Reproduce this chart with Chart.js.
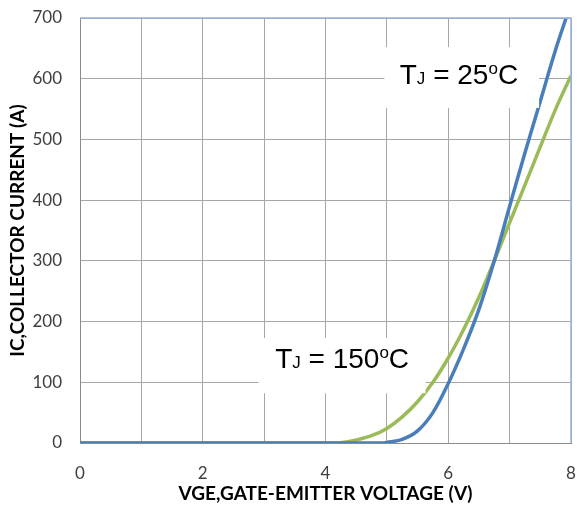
<!DOCTYPE html>
<html>
<head>
<meta charset="utf-8">
<script src="https://cdn.jsdelivr.net/npm/chart.js@4/dist/chart.umd.min.js"></script>
<style>
  html, body { margin: 0; padding: 0; background: #fff; }
  #wrap { width: 577px; height: 511px; position: relative; }
</style>
</head>
<body>
<div id="wrap"><canvas id="c"></canvas></div>
<script>
// Transfer characteristic: collector current vs gate-emitter voltage
const vge25 = [0, 1, 2, 3, 4, 4.5, 4.9, 5.0, 5.25, 5.5, 5.75, 6.0, 6.25, 6.5, 6.75, 7.0, 7.25, 7.5, 7.75, 7.92];
const ic25  = [0, 0, 0, 0, 0, 0,   0,   1,   6,    20,  50,   98,  155,  220, 300,  390, 478,  563, 648,  700];

const vge150 = [0, 1, 2, 3, 4, 4.25, 4.5, 4.75, 5.0, 5.25, 5.5, 5.75, 6.0, 6.25, 6.5, 6.75, 7.0, 7.25, 7.5, 7.75, 8.0];
const ic150  = [0, 0, 0, 0, 0, 0.5,  5,   12,   24,  43,   68,  100,  140, 187,  240, 300,  363, 425,  488, 550,  605];

const xTicks = [0, 2, 4, 6, 8];
const yTicks = [0, 100, 200, 300, 400, 500, 600, 700];

// Annotation boxes (data coordinates) and their text parts
const labels = [
  { box: [4.96, 652, 7.48, 552], at: [5.21, 591], temp: '25' },
  { box: [2.91, 173, 5.63, 82],  at: [3.18, 123], temp: '150' }
];

const toPts = (xs, ys) => xs.map((x, i) => ({ x: x, y: ys[i] }));

const frameAndLabels = {
  id: 'frameAndLabels',
  afterDatasetsDraw(chart) {
    const { ctx, chartArea: a, scales: { x, y } } = chart;
    ctx.save();
    // top and right frame edges
    ctx.strokeStyle = '#95b3d7';
    ctx.lineWidth = 1.5;
    ctx.beginPath();
    ctx.moveTo(a.left, a.top);
    ctx.lineTo(a.right, a.top);
    ctx.lineTo(a.right, a.bottom);
    ctx.stroke();

    labels.forEach(l => {
      const x0 = x.getPixelForValue(l.box[0]), y0 = y.getPixelForValue(l.box[1]);
      const x1 = x.getPixelForValue(l.box[2]), y1 = y.getPixelForValue(l.box[3]);
      ctx.fillStyle = '#ffffff';
      ctx.fillRect(x0, y0, x1 - x0, y1 - y0);

      let px = x.getPixelForValue(l.at[0]);
      const base = y.getPixelForValue(l.at[1]);
      ctx.fillStyle = '#000000';
      ctx.textBaseline = 'alphabetic';
      ctx.textAlign = 'left';
      const big = '28px "Liberation Sans", Arial, sans-serif';
      const small = '17px "Liberation Sans", Arial, sans-serif';
      const part = (t, f, dy) => {
        ctx.font = f;
        ctx.fillText(t, px, base + dy);
        px += ctx.measureText(t).width;
      };
      part('T', big, 0);
      part('J', small, 0);
      part(' = ' + l.temp, big, 0);
      part('o', small, -10);
      part('C', big, 0);
    });
    ctx.restore();
  }
};

new Chart(document.getElementById('c'), {
  type: 'line',
  data: {
    datasets: [
      {
        label: 'TJ = 25°C',
        data: toPts(vge25, ic25),
        borderColor: '#4a7ebb',
        borderWidth: 3.5,
        pointRadius: 0,
        tension: 0.35,
        fill: false
      },
      {
        label: 'TJ = 150°C',
        data: toPts(vge150, ic150),
        borderColor: '#9bbb59',
        borderWidth: 3.5,
        pointRadius: 0,
        tension: 0.35,
        fill: false
      }
    ]
  },
  options: {
    responsive: true,
    maintainAspectRatio: false,
    animation: false,
    events: [],
    layout: { padding: { top: 18, right: 6, left: 0, bottom: 0 } },
    plugins: { legend: { display: false }, tooltip: { enabled: false } },
    scales: {
      x: {
        type: 'linear',
        min: 0, max: 8,
        afterBuildTicks: s => { s.ticks = [0,1,2,3,4,5,6,7,8].map(v => ({ value: v })); },
        afterFit: s => { s.height = 68; s.paddingLeft = 0; s.paddingRight = 0; },
        ticks: {
          callback: v => (xTicks.includes(v) ? String(v) : ''),
          autoSkip: false,
          maxRotation: 0,
          padding: 20,
          color: '#404040',
          font: { family: 'Lato, "Open Sans", sans-serif', size: 17 }
        },
        grid: { color: '#a6a6a6', lineWidth: 1, drawTicks: false },
        border: { color: '#8c8c8c', width: 1 },
        title: {
          display: true,
          text: 'VGE,GATE-EMITTER VOLTAGE (V)',
          color: '#000',
          font: { family: 'Lato, "Open Sans", sans-serif', size: 19, weight: 'bold' },
          padding: { top: 0, bottom: 6 }
        }
      },
      y: {
        min: 0, max: 700,
        afterBuildTicks: s => { s.ticks = yTicks.map(v => ({ value: v })); },
        afterFit: s => { s.width = 80; s.paddingTop = 0; s.paddingBottom = 0; },
        ticks: {
          padding: 18,
          color: '#404040',
          font: { family: 'Lato, "Open Sans", sans-serif', size: 17 }
        },
        grid: { color: '#a6a6a6', lineWidth: 1, drawTicks: false },
        border: { color: '#8c8c8c', width: 1 },
        title: {
          display: true,
          text: 'IC,COLLECTOR CURRENT (A)',
          color: '#000',
          font: { family: 'Lato, "Open Sans", sans-serif', size: 19, weight: 'bold' },
          padding: { top: 6, bottom: 0 }
        }
      }
    }
  },
  plugins: [frameAndLabels]
});
</script>
</body>
</html>
